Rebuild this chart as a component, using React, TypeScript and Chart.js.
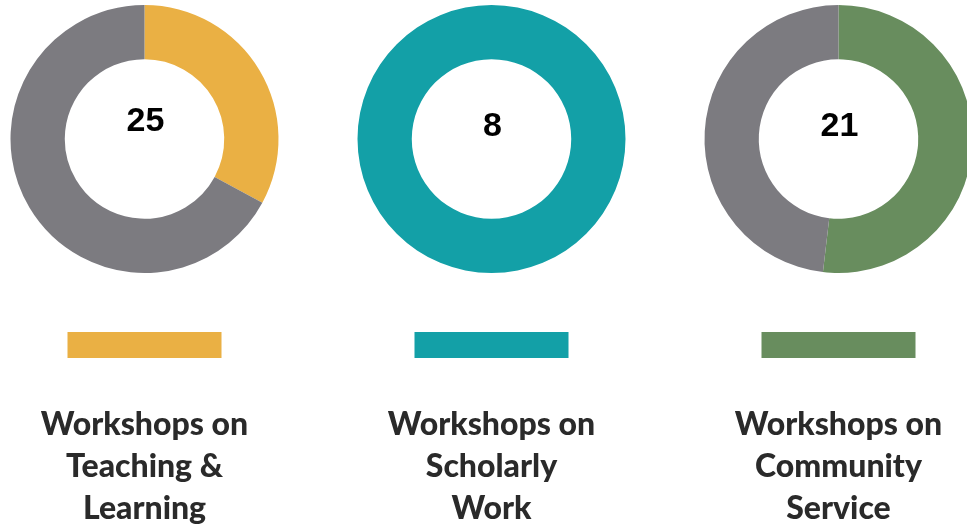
import React, { useEffect, useRef } from "react";
import { Chart, registerables } from "chart.js";

Chart.register(...registerables);

const categories = ["Teaching & Learning", "Scholarly Work", "Community Service"];
const workshopCounts = [25, 8, 21];
const remainderValues = [51, 0, 19.5];
const seriesColors = ["#EAB044", "#13A0A7", "#688D5E"];
const remainderColor = "#7C7B80";
const labelLines = [
  ["Workshops on", "Teaching &", "Learning"],
  ["Workshops on", "Scholarly", "Work"],
  ["Workshops on", "Community", "Service"],
];
const numberOffsets = [-17, -12, -12];

const W = 347;
const H = 527;
const centers = [144.5, 491.5, 838.5];

function Donut({ idx }: { idx: number }) {
  const ref = useRef<HTMLCanvasElement | null>(null);
  useEffect(() => {
    if (!ref.current) return;
    const overlay = {
      id: "overlay" + idx,
      afterDraw(chart: any) {
        const ctx = chart.ctx;
        const meta = chart.getDatasetMeta(0);
        const arc = meta.data[0];
        const cx = arc.x;
        const cy = arc.y;
        ctx.save();
        ctx.fillStyle = "#000";
        ctx.font = "bold 34px 'Liberation Sans', Arial, sans-serif";
        ctx.textAlign = "center";
        ctx.textBaseline = "middle";
        ctx.fillText(String(workshopCounts[idx]), cx + 1, cy + numberOffsets[idx]);
        // swatch
        ctx.fillStyle = seriesColors[idx];
        ctx.fillRect(cx - 77, 332, 154, 26);
        // labels
        ctx.fillStyle = "#2A2A2A";
        ctx.font = "900 32px Lato, 'Open Sans', sans-serif";
        ctx.textBaseline = "alphabetic";
        labelLines[idx].forEach((line, i) => {
          ctx.fillText(line, cx, 435 + i * 42);
        });
        ctx.restore();
      },
    };
    const chart = new Chart(ref.current, {
      type: "doughnut",
      data: {
        labels: [categories[idx], "Other"],
        datasets: [
          {
            data: [workshopCounts[idx], remainderValues[idx]],
            backgroundColor: [seriesColors[idx], remainderColor],
            borderWidth: 0,
            hoverOffset: 0,
          },
        ],
      },
      options: {
        responsive: false,
        animation: false,
        cutout: "59.5%",
        layout: { padding: { top: 5, bottom: H - 273, left: (W - 268) / 2, right: (W - 268) / 2 } },
        plugins: { legend: { display: false }, tooltip: { enabled: false } },
      },
      plugins: [overlay],
    });
    return () => chart.destroy();
  }, [idx]);
  return (
    <canvas
      ref={ref}
      width={W}
      height={H}
      style={{ position: "absolute", left: centers[idx] - W / 2, top: 0, width: W, height: H }}
    />
  );
}

export default function App() {
  return (
    <div
      style={{
        position: "fixed",
        left: 0,
        top: 0,
        width: 967,
        height: 527,
        overflow: "hidden",
        background: "#fff",
      }}
    >
      {[0, 1, 2].map((i) => (
        <Donut key={i} idx={i} />
      ))}
    </div>
  );
}
